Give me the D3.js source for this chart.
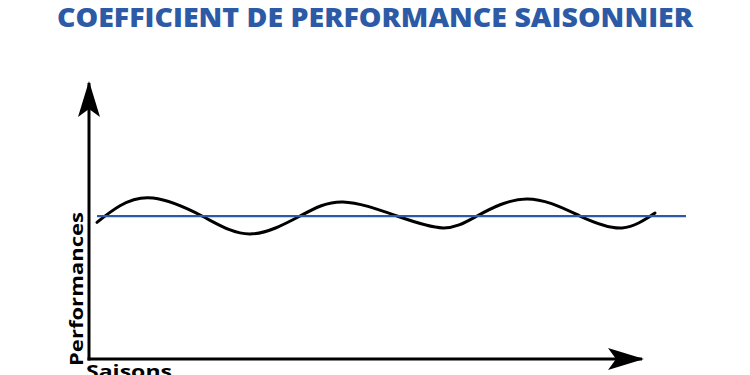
<!DOCTYPE html>
<html>
<head>
<meta charset="utf-8">
<script src="https://cdn.jsdelivr.net/npm/d3@7"></script>
<style>
  html, body { margin: 0; padding: 0; background: #fff; }
  svg { display: block; }
</style>
</head>
<body>
<div id="container"></div>
<script>
/* CONSTANTS AND GLOBALS */
const width = 750,
      height = 375;

/* DATA */
const title = "COEFFICIENT DE PERFORMANCE SAISONNIER";
const xLabel = "Saisons";
const yLabel = "Performances";
// curve (season units, performance units)
const seasons = [0.16, 0.62, 1.28, 2.26, 3.22, 4.22, 5.08, 6.16, 7.08, 7.76, 8.76, 9.82, 10.66, 11.32];
const performance = [4.95, 5.55, 5.83, 5.18, 4.53, 5.18, 5.69, 5.18, 4.75, 5.18, 5.80, 5.18, 4.75, 5.29];
const scopLevel = 5.18;          // blue horizontal reference
const scopRange = [0.16, 11.94];
const axisEnd = { x: 11.06, y: 10 };

/* SCALES */
const xScale = d3.scaleLinear().domain([0, 12]).range([89, 689]);
const yScale = d3.scaleLinear().domain([0, 10]).range([359, 83]);

const svg = d3.select("#container")
  .append("svg")
  .attr("width", width)
  .attr("height", height);

// arrow heads (stealth shape)
const defs = svg.append("defs");
defs.append("marker")
  .attr("id", "arrow")
  .attr("viewBox", "0 0 36 22")
  .attr("refX", 34)
  .attr("refY", 11)
  .attr("markerWidth", 36)
  .attr("markerHeight", 22)
  .attr("markerUnits", "userSpaceOnUse")
  .attr("orient", "auto")
  .append("path")
  .attr("d", "M0,0 L36,11 L0,22 L8,11 Z")
  .attr("fill", "#000");

/* TITLE */
svg.append("text")
  .attr("x", width / 2)
  .attr("y", 27)
  .attr("text-anchor", "middle")
  .attr("font-family", "'Open Sans', sans-serif")
  .attr("font-weight", 800)
  .attr("font-size", 26)
  .attr("fill", "#2c5aa6")
  .attr("textLength", 636)
  .attr("lengthAdjust", "spacingAndGlyphs")
  .text(title);

/* AXES */
svg.append("line")
  .attr("x1", xScale(0)).attr("y1", yScale(0) + 1.5)
  .attr("x2", xScale(0)).attr("y2", yScale(axisEnd.y))
  .attr("stroke", "#000")
  .attr("stroke-width", 3)
  .attr("marker-end", "url(#arrow)");

svg.append("line")
  .attr("x1", xScale(0) - 1.5).attr("y1", yScale(0))
  .attr("x2", xScale(axisEnd.x)).attr("y2", yScale(0))
  .attr("stroke", "#000")
  .attr("stroke-width", 3)
  .attr("marker-end", "url(#arrow)");

/* AXIS LABELS */
svg.append("text")
  .attr("transform", `translate(83, 366) rotate(-90)`)
  .attr("font-family", "'Open Sans', sans-serif")
  .attr("font-weight", 700)
  .attr("font-size", 18)
  .attr("fill", "#000")
  .attr("textLength", 154)
  .attr("lengthAdjust", "spacingAndGlyphs")
  .text(yLabel);

// cut by the bottom edge, as in the original image
svg.append("text")
  .attr("x", 86)
  .attr("y", 378)
  .attr("font-family", "'Open Sans', sans-serif")
  .attr("font-weight", 700)
  .attr("font-size", 18)
  .attr("fill", "#000")
  .attr("textLength", 86)
  .attr("lengthAdjust", "spacingAndGlyphs")
  .text(xLabel);

/* CURVE */
const line = d3.line()
  .x(d => xScale(d[0]))
  .y(d => yScale(d[1]))
  .curve(d3.curveNatural);

svg.append("path")
  .datum(seasons.map((s, i) => [s, performance[i]]))
  .attr("d", line)
  .attr("fill", "none")
  .attr("stroke", "#000")
  .attr("stroke-width", 3)
  .attr("stroke-linecap", "round");

/* REFERENCE LINE */
svg.append("line")
  .attr("x1", xScale(scopRange[0])).attr("y1", yScale(scopLevel))
  .attr("x2", xScale(scopRange[1])).attr("y2", yScale(scopLevel))
  .attr("stroke", "#2c5aa6")
  .attr("stroke-width", 2.2);
</script>
</body>
</html>
